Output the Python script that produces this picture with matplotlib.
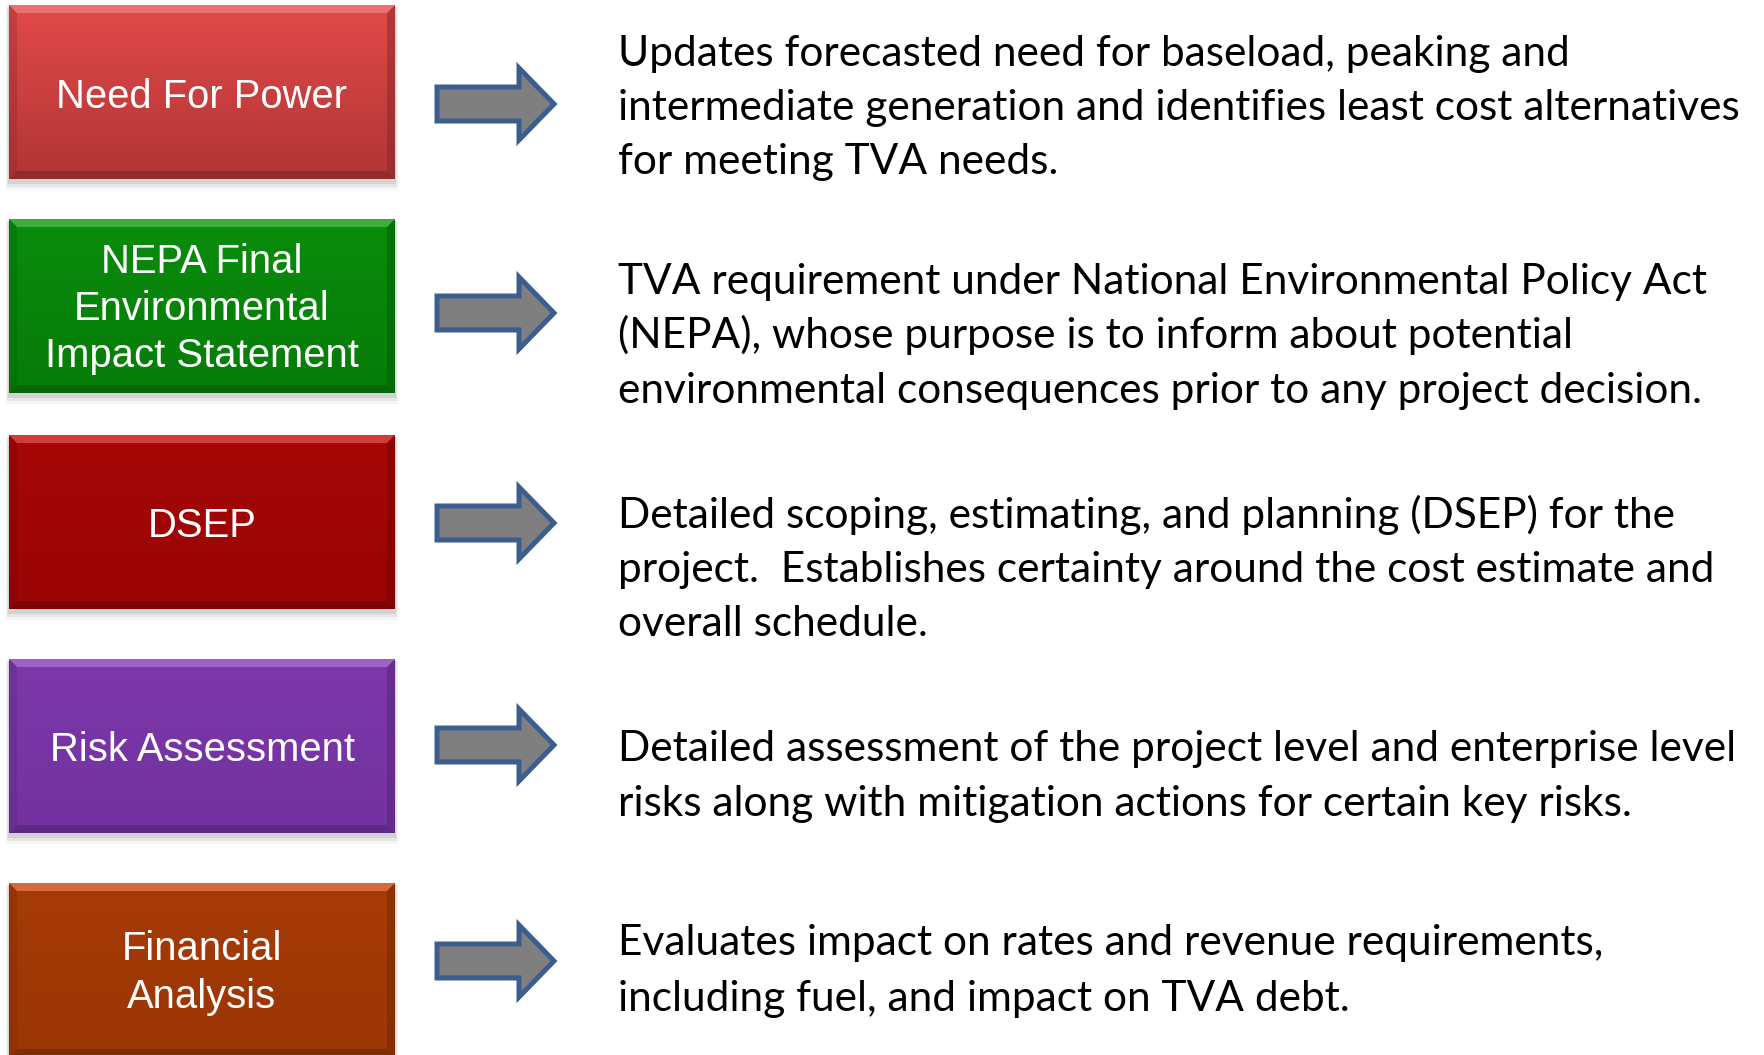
"""Process steps diagram: coloured step boxes, arrows and descriptions"""
import matplotlib
matplotlib.use('Agg')
import matplotlib.pyplot as plt
import numpy as np
from matplotlib.colors import to_rgb
from matplotlib.patches import Polygon, Rectangle

# --- content ---
step_labels = ['Need For Power',
               'NEPA Final\nEnvironmental\nImpact Statement',
               'DSEP',
               'Risk Assessment',
               'Financial\nAnalysis']
descriptions = [
    ['Updates forecasted need for baseload, peaking and',
     'intermediate generation and identifies least cost alternatives',
     'for meeting TVA needs.'],
    ['TVA requirement under National Environmental Policy Act',
     '(NEPA), whose purpose is to inform about potential',
     'environmental consequences prior to any project decision.'],
    ['Detailed scoping, estimating, and planning (DSEP) for the',
     'project.  Establishes certainty around the cost estimate and',
     'overall schedule.'],
    ['Detailed assessment of the project level and enterprise level',
     'risks along with mitigation actions for certain key risks.'],
    ['Evaluates impact on rates and revenue requirements,',
     'including fuel, and impact on TVA debt.'],
]

# --- styling / layout (pixel coordinates, y downwards) ---
box_top_colors = ['#e24a4a', '#0a8c0c', '#a60707', '#7c37a9', '#a63b07']
box_bot_colors = ['#b13535', '#077c09', '#9a0505', '#7332a0', '#9b3605']
bevel_colors = ['#f07676', '#45b545', '#de4545', '#a56bd0', '#de7444']
box_tops = [5, 219, 435, 659, 883]
box_h = 174
box_x0, box_x1 = 9, 395
label_baselines = [[108], [273, 320, 367], [537], [761], [960, 1008]]
arrow_centers = [104, 313, 523, 745, 961]
desc_x = 618
desc_baselines = [[66, 120, 174], [294, 348, 403], [528, 582, 636],
                  [761, 816], [955, 1011]]

W, H = 1764, 1055
fig = plt.figure(figsize=(W / 100, H / 100), dpi=100)
ax = fig.add_axes([0, 0, 1, 1])
ax.set_xlim(0, W)
ax.set_ylim(H, 0)
ax.axis('off')

px = 72 / 100  # points per pixel


def gradient_box(x0, y0, x1, y1, c_top, c_bot, bevel, z=2):
    # soft shadow
    for k, a in zip([9, 6, 3], [0.04, 0.06, 0.08]):
        ax.add_patch(Rectangle((x0 - k / 3, y0 + 2), (x1 - x0) + 2 * k / 3, (y1 - y0) + k,
                               facecolor='black', edgecolor='none', alpha=a, zorder=z - 1))
    t = np.linspace(0, 1, 64)[:, None]
    top, bot = np.array(to_rgb(c_top)), np.array(to_rgb(c_bot))
    img = (1 - t)[..., None] * top + t[..., None] * bot
    ax.imshow(img, extent=(x0, x1, y1, y0), aspect='auto', interpolation='bilinear', zorder=z)
    b = 8
    # bevel edges
    ax.add_patch(Polygon([(x0, y0), (x1, y0), (x1 - b, y0 + b), (x0 + b, y0 + b)],
                         facecolor=bevel, edgecolor='none', alpha=0.85, zorder=z + 0.1))
    dark = tuple(np.array(to_rgb(c_bot)) * 0.75)
    ax.add_patch(Polygon([(x0, y1), (x1, y1), (x1 - b, y1 - b), (x0 + b, y1 - b)],
                         facecolor=dark, edgecolor='none', alpha=0.7, zorder=z + 0.1))
    ax.add_patch(Polygon([(x1, y0), (x1, y1), (x1 - b, y1 - b), (x1 - b, y0 + b)],
                         facecolor=dark, edgecolor='none', alpha=0.5, zorder=z + 0.1))
    ax.add_patch(Polygon([(x0, y0), (x0, y1), (x0 + b, y1 - b), (x0 + b, y0 + b)],
                         facecolor=dark, edgecolor='none', alpha=0.3, zorder=z + 0.1))


for i, label in enumerate(step_labels):
    y0 = box_tops[i]
    gradient_box(box_x0, y0, box_x1, y0 + box_h, box_top_colors[i], box_bot_colors[i], bevel_colors[i])
    for line, yb in zip(label.split('\n'), label_baselines[i]):
        ax.text((box_x0 + box_x1) / 2, yb, line, color='white', fontsize=28.8,
                family='Liberation Sans', ha='center', va='baseline', zorder=5)

    # arrow
    c = arrow_centers[i]
    pts = [(437, c - 17), (519, c - 17), (519, c - 36), (554, c),
           (519, c + 36), (519, c + 17), (437, c + 17)]
    ax.add_patch(Polygon(pts, closed=True, facecolor='#7f7f7f', edgecolor='#3b5e8e',
                         linewidth=5 * px, joinstyle='miter', zorder=3))

# description font size fitted to the widest reference line (618 -> 1741 px)
probe = ax.text(0, 0, descriptions[0][1], fontsize=30, family='Lato')
fig.canvas.draw()
w = probe.get_window_extent().width
probe.remove()
desc_size = 30 * 1123 / w

for lines, ys in zip(descriptions, desc_baselines):
    for line, yb in zip(lines, ys):
        ax.text(desc_x, yb, line, color='black', fontsize=desc_size, family='Lato',
                ha='left', va='baseline', zorder=5)

fig.savefig('out.png', dpi=100, facecolor='white')
plt.close(fig)
